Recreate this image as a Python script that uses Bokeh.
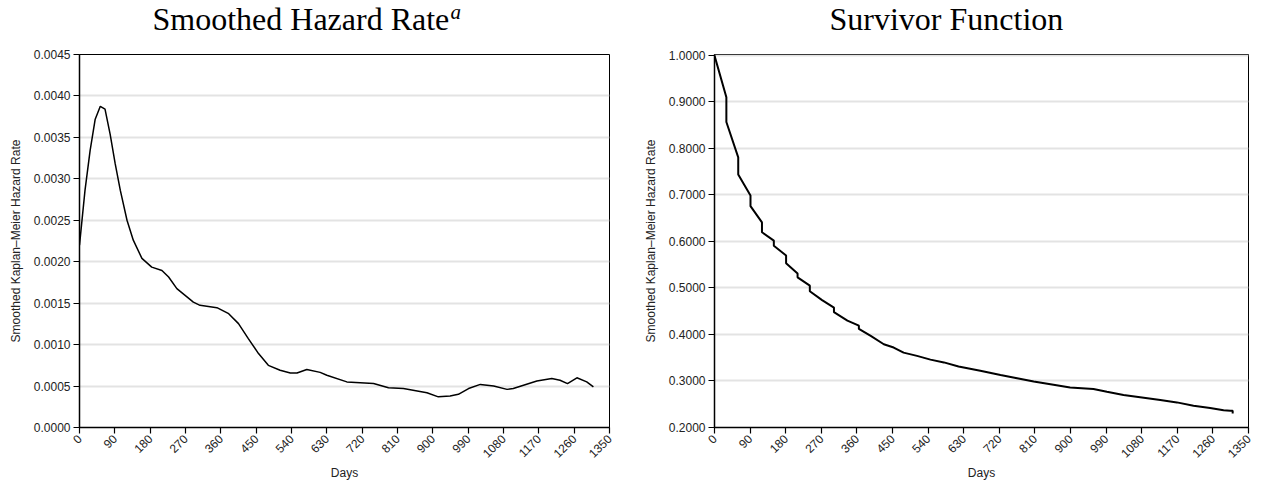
from bokeh.plotting import figure
from bokeh.layouts import row, column
from bokeh.models import FixedTicker, PrintfTickFormatter, Range1d, Label
from bokeh.embed import file_html
from bokeh.resources import INLINE
import math

# ---------------- data ----------------
x_ticks = [0, 90, 180, 270, 360, 450, 540, 630, 720, 810, 900, 990, 1080, 1170, 1260, 1350]
hazard_ticks = [0.0, 0.0005, 0.0010, 0.0015, 0.0020, 0.0025, 0.0030, 0.0035, 0.0040, 0.0045]
surv_ticks = [0.2, 0.3, 0.4, 0.5, 0.6, 0.7, 0.8, 0.9, 1.0]

hazard_days = [0, 14, 27, 40, 53, 65, 78, 91, 104, 121, 137, 159, 184, 210, 227, 248,
               269, 290, 307, 350, 380, 405, 430, 456, 481, 511, 537, 554, 579, 613,
               630, 681, 749, 787, 825, 885, 914, 944, 965, 991, 1021, 1055, 1089,
               1105, 1131, 1165, 1203, 1224, 1243, 1267, 1292, 1309]
hazard_rate = [0.00220, 0.00286, 0.00334, 0.00372, 0.003875, 0.00384, 0.00354, 0.00318,
               0.00286, 0.00250, 0.00226, 0.00204, 0.001935, 0.001895, 0.001815, 0.001675,
               0.001594, 0.001513, 0.001474, 0.001446, 0.001373, 0.001253, 0.001072,
               0.000892, 0.00075, 0.00069, 0.000658, 0.000658, 0.000699, 0.000665,
               0.00063, 0.00055, 0.00053, 0.00048, 0.00047, 0.00042, 0.00037, 0.00038,
               0.00040, 0.00047, 0.00052, 0.00050, 0.00046, 0.00047, 0.00051, 0.00056,
               0.00059, 0.00057, 0.00053, 0.00060, 0.00055, 0.00049]

surv_days = [0, 30, 30, 60, 60, 91, 91, 120, 120, 150, 150, 181, 181, 210, 210, 241, 241,
             272, 302, 302, 336, 365, 365, 395, 428, 453, 478, 512, 546, 580, 617, 672,
             723, 765, 807, 857, 899, 958, 992, 1034, 1076, 1127, 1169, 1211, 1253, 1287,
             1304, 1310, 1310]
surv_prob = [1.0, 0.910, 0.857, 0.781, 0.744, 0.699, 0.676, 0.641, 0.620, 0.602, 0.591,
             0.570, 0.553, 0.531, 0.523, 0.505, 0.493, 0.474, 0.458, 0.448, 0.430, 0.419,
             0.412, 0.397, 0.379, 0.372, 0.361, 0.354, 0.346, 0.340, 0.331, 0.322, 0.313,
             0.306, 0.299, 0.292, 0.286, 0.283, 0.277, 0.270, 0.265, 0.259, 0.254, 0.247,
             0.242, 0.237, 0.236, 0.236, 0.230]

TXT = "#222222"
FRAME_H = 373
TITLE_H = 44
W1, W2 = 640, 613


def style(p, yticks):
    p.outline_line_color = "black"
    p.outline_line_width = 1
    p.xgrid.visible = False
    p.ygrid.grid_line_color = "#e3e3e3"
    p.ygrid.grid_line_width = 2
    p.xaxis.ticker = FixedTicker(ticks=x_ticks)
    p.yaxis.ticker = FixedTicker(ticks=yticks)
    p.yaxis.formatter = PrintfTickFormatter(format="%.4f")
    p.xaxis.major_label_orientation = math.pi / 4
    for ax in (p.xaxis, p.yaxis):
        ax.axis_line_color = "black"
        ax.axis_line_width = 1.5
        ax.major_tick_line_color = "black"
        ax.major_tick_line_width = 1.2
        ax.major_tick_out = 6
        ax.major_tick_in = 0
        ax.minor_tick_line_color = None
        ax.major_label_text_font = "Liberation Sans"
        ax.major_label_text_font_size = "12px"
        ax.major_label_text_color = TXT
        ax.major_label_standoff = 3
        ax.axis_label_text_font = "Liberation Sans"
        ax.axis_label_text_font_size = "12px"
        ax.axis_label_text_font_style = "normal"
        ax.axis_label_text_color = TXT
    p.xaxis.axis_label_standoff = 1
    p.yaxis.axis_label_standoff = 8
    p.xaxis.axis_label = "Days"
    p.yaxis.axis_label = "Smoothed Kaplan\u2013Meier Hazard Rate"


def title_fig(width):
    t = figure(width=width, height=TITLE_H, min_border=0,
               x_range=Range1d(0, width), y_range=Range1d(0, TITLE_H),
               x_axis_location=None, y_axis_location=None,
               output_backend="svg", toolbar_location=None)
    t.grid.visible = False
    t.outline_line_color = None
    return t


def add_text(t, text, x, y, size="32px", style_="normal"):
    t.add_layout(Label(x=x, y=y, x_units="screen", y_units="screen",
                       text=text, text_font="Liberation Serif", text_font_size=size,
                       text_font_style=style_, text_color="black",
                       text_align="left", text_baseline="alphabetic"))


t1 = title_fig(W1)
add_text(t1, "Smoothed Hazard Rate", 152, 26)
add_text(t1, "a", 450, 33, size="21px", style_="italic")

t2 = title_fig(W2)
add_text(t2, "Survivor Function", 189, 26)

p1 = figure(frame_width=530, frame_height=FRAME_H, min_border_left=79, min_border_right=31,
            min_border_top=10, min_border_bottom=49,
            x_range=Range1d(0, 1350), y_range=Range1d(0, 0.0045),
            output_backend="svg", toolbar_location=None)
style(p1, hazard_ticks)
p1.line(hazard_days, hazard_rate, line_color="black", line_width=1.5)

p2 = figure(frame_width=534, frame_height=FRAME_H, min_border_left=74, min_border_right=5,
            min_border_top=10, min_border_bottom=49,
            x_range=Range1d(0, 1350), y_range=Range1d(0.2, 1.00215),
            output_backend="svg", toolbar_location=None)
style(p2, surv_ticks)
p2.line(surv_days, surv_prob, line_color="black", line_width=2)

layout = column(row(t1, t2, spacing=0), row(p1, p2, spacing=0), spacing=0)
open("out.html", "w").write(file_html(layout, INLINE))
